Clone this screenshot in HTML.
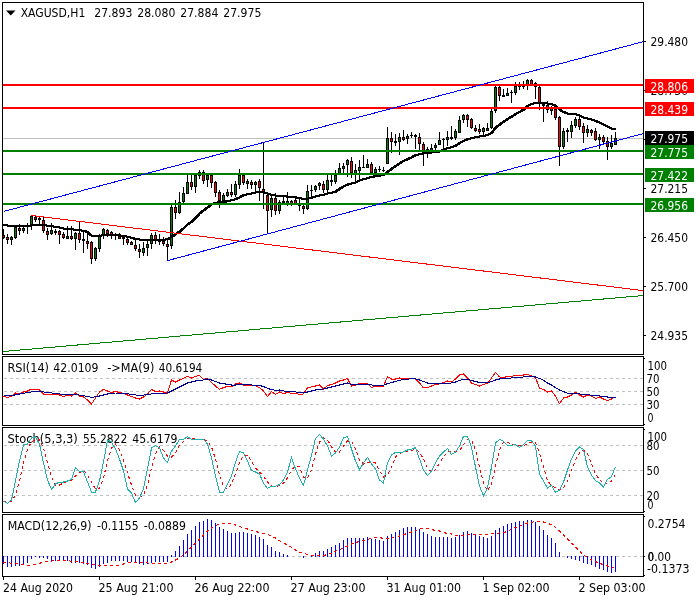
<!DOCTYPE html>
<html lang="en"><head><meta charset="utf-8"><title>XAGUSD,H1</title>
<style>html,body{margin:0;padding:0;background:#fff}svg{display:block}text{font-family:"DejaVu Sans Condensed","DejaVu Sans","Liberation Sans",sans-serif;font-size:12px;fill:#000}.w{fill:#fff}</style></head><body>
<svg width="700" height="600" viewBox="0 0 700 600">
<rect width="700" height="600" fill="#fff"/>
<polygon points="6,10.5 15.5,10.5 10.75,15.5" fill="#000"/>
<text x="20.7" y="17" textLength="64.6" lengthAdjust="spacingAndGlyphs">XAGUSD,H1</text>
<text x="94.3" y="17" textLength="38" lengthAdjust="spacingAndGlyphs">27.893</text>
<text x="137.3" y="17" textLength="38" lengthAdjust="spacingAndGlyphs">28.080</text>
<text x="180.3" y="17" textLength="38" lengthAdjust="spacingAndGlyphs">27.884</text>
<text x="223.3" y="17" textLength="38" lengthAdjust="spacingAndGlyphs">27.975</text>
<g shape-rendering="crispEdges">
<rect x="3" y="138" width="640" height="1" fill="#c0c0c0"/>
<rect x="3" y="229" width="1" height="10" fill="#000"/>
<rect x="2" y="235" width="3" height="3" fill="#000"/>
<rect x="3" y="236" width="1" height="1" fill="#ff0000"/>
<rect x="7" y="234" width="1" height="10" fill="#000"/>
<rect x="6" y="237" width="3" height="3" fill="#000"/>
<rect x="7" y="238" width="1" height="1" fill="#ff0000"/>
<rect x="11" y="236" width="1" height="9" fill="#000"/>
<rect x="10" y="237" width="3" height="3" fill="#000"/>
<rect x="11" y="238" width="1" height="1" fill="#008000"/>
<rect x="15" y="226" width="1" height="13" fill="#000"/>
<rect x="14" y="227" width="3" height="11" fill="#000"/>
<rect x="15" y="228" width="1" height="9" fill="#008000"/>
<rect x="19" y="224" width="1" height="11" fill="#000"/>
<rect x="18" y="228" width="3" height="3" fill="#000"/>
<rect x="19" y="229" width="1" height="1" fill="#ff0000"/>
<rect x="23" y="225" width="1" height="8" fill="#000"/>
<rect x="22" y="228" width="3" height="3" fill="#000"/>
<rect x="23" y="229" width="1" height="1" fill="#008000"/>
<rect x="27" y="223" width="1" height="11" fill="#000"/>
<rect x="26" y="226" width="3" height="1" fill="#000"/>
<rect x="31" y="216" width="1" height="14" fill="#000"/>
<rect x="30" y="216" width="3" height="10" fill="#000"/>
<rect x="31" y="217" width="1" height="8" fill="#008000"/>
<rect x="35" y="216" width="1" height="6" fill="#000"/>
<rect x="34" y="217" width="3" height="3" fill="#000"/>
<rect x="35" y="218" width="1" height="1" fill="#ff0000"/>
<rect x="39" y="217" width="1" height="8" fill="#000"/>
<rect x="38" y="218" width="3" height="2" fill="#000"/>
<rect x="43" y="217" width="1" height="16" fill="#000"/>
<rect x="42" y="220" width="3" height="11" fill="#000"/>
<rect x="43" y="221" width="1" height="9" fill="#ff0000"/>
<rect x="47" y="228" width="1" height="12" fill="#000"/>
<rect x="46" y="231" width="3" height="4" fill="#000"/>
<rect x="47" y="232" width="1" height="2" fill="#ff0000"/>
<rect x="51" y="223" width="1" height="12" fill="#000"/>
<rect x="50" y="230" width="3" height="4" fill="#000"/>
<rect x="51" y="231" width="1" height="2" fill="#008000"/>
<rect x="55" y="229" width="1" height="6" fill="#000"/>
<rect x="54" y="231" width="3" height="2" fill="#000"/>
<rect x="59" y="230" width="1" height="14" fill="#000"/>
<rect x="58" y="231" width="3" height="4" fill="#000"/>
<rect x="59" y="232" width="1" height="2" fill="#ff0000"/>
<rect x="63" y="232" width="1" height="7" fill="#000"/>
<rect x="62" y="234" width="3" height="4" fill="#000"/>
<rect x="63" y="235" width="1" height="2" fill="#ff0000"/>
<rect x="67" y="226" width="1" height="13" fill="#000"/>
<rect x="66" y="236" width="3" height="3" fill="#000"/>
<rect x="67" y="237" width="1" height="1" fill="#008000"/>
<rect x="71" y="226" width="1" height="14" fill="#000"/>
<rect x="70" y="236" width="3" height="3" fill="#000"/>
<rect x="71" y="237" width="1" height="1" fill="#ff0000"/>
<rect x="75" y="232" width="1" height="18" fill="#000"/>
<rect x="74" y="233" width="3" height="6" fill="#000"/>
<rect x="75" y="234" width="1" height="4" fill="#008000"/>
<rect x="79" y="222" width="1" height="21" fill="#000"/>
<rect x="78" y="233" width="3" height="7" fill="#000"/>
<rect x="79" y="234" width="1" height="5" fill="#ff0000"/>
<rect x="83" y="231" width="1" height="22" fill="#000"/>
<rect x="82" y="239" width="3" height="2" fill="#000"/>
<rect x="87" y="234" width="1" height="15" fill="#000"/>
<rect x="86" y="241" width="3" height="3" fill="#000"/>
<rect x="87" y="242" width="1" height="1" fill="#ff0000"/>
<rect x="91" y="241" width="1" height="23" fill="#000"/>
<rect x="90" y="242" width="3" height="17" fill="#000"/>
<rect x="91" y="243" width="1" height="15" fill="#ff0000"/>
<rect x="95" y="247" width="1" height="14" fill="#000"/>
<rect x="94" y="248" width="3" height="11" fill="#000"/>
<rect x="95" y="249" width="1" height="9" fill="#008000"/>
<rect x="99" y="234" width="1" height="18" fill="#000"/>
<rect x="98" y="235" width="3" height="14" fill="#000"/>
<rect x="99" y="236" width="1" height="12" fill="#008000"/>
<rect x="103" y="228" width="1" height="11" fill="#000"/>
<rect x="102" y="229" width="3" height="6" fill="#000"/>
<rect x="103" y="230" width="1" height="4" fill="#008000"/>
<rect x="107" y="229" width="1" height="8" fill="#000"/>
<rect x="106" y="230" width="3" height="4" fill="#000"/>
<rect x="107" y="231" width="1" height="2" fill="#ff0000"/>
<rect x="111" y="231" width="1" height="8" fill="#000"/>
<rect x="110" y="232" width="3" height="3" fill="#000"/>
<rect x="111" y="233" width="1" height="1" fill="#ff0000"/>
<rect x="115" y="233" width="1" height="7" fill="#000"/>
<rect x="114" y="235" width="3" height="1" fill="#000"/>
<rect x="119" y="233" width="1" height="6" fill="#000"/>
<rect x="118" y="236" width="3" height="3" fill="#000"/>
<rect x="119" y="237" width="1" height="1" fill="#ff0000"/>
<rect x="123" y="237" width="1" height="8" fill="#000"/>
<rect x="122" y="237" width="3" height="2" fill="#000"/>
<rect x="127" y="238" width="1" height="7" fill="#000"/>
<rect x="126" y="239" width="3" height="4" fill="#000"/>
<rect x="127" y="240" width="1" height="2" fill="#ff0000"/>
<rect x="131" y="241" width="1" height="4" fill="#000"/>
<rect x="130" y="242" width="3" height="3" fill="#000"/>
<rect x="131" y="243" width="1" height="1" fill="#ff0000"/>
<rect x="135" y="239" width="1" height="12" fill="#000"/>
<rect x="134" y="245" width="3" height="4" fill="#000"/>
<rect x="135" y="246" width="1" height="2" fill="#ff0000"/>
<rect x="139" y="244" width="1" height="14" fill="#000"/>
<rect x="138" y="249" width="3" height="3" fill="#000"/>
<rect x="139" y="250" width="1" height="1" fill="#ff0000"/>
<rect x="143" y="242" width="1" height="14" fill="#000"/>
<rect x="142" y="248" width="3" height="5" fill="#000"/>
<rect x="143" y="249" width="1" height="3" fill="#008000"/>
<rect x="147" y="241" width="1" height="15" fill="#000"/>
<rect x="146" y="244" width="3" height="4" fill="#000"/>
<rect x="147" y="245" width="1" height="2" fill="#008000"/>
<rect x="151" y="233" width="1" height="16" fill="#000"/>
<rect x="150" y="235" width="3" height="9" fill="#000"/>
<rect x="151" y="236" width="1" height="7" fill="#008000"/>
<rect x="155" y="232" width="1" height="12" fill="#000"/>
<rect x="154" y="235" width="3" height="5" fill="#000"/>
<rect x="155" y="236" width="1" height="3" fill="#ff0000"/>
<rect x="159" y="234" width="1" height="11" fill="#000"/>
<rect x="158" y="239" width="3" height="3" fill="#000"/>
<rect x="163" y="237" width="1" height="9" fill="#000"/>
<rect x="162" y="241" width="3" height="3" fill="#000"/>
<rect x="163" y="242" width="1" height="1" fill="#ff0000"/>
<rect x="167" y="240" width="1" height="21" fill="#000"/>
<rect x="166" y="244" width="3" height="3" fill="#000"/>
<rect x="167" y="245" width="1" height="1" fill="#ff0000"/>
<rect x="171" y="205" width="1" height="44" fill="#000"/>
<rect x="170" y="207" width="3" height="39" fill="#000"/>
<rect x="171" y="208" width="1" height="37" fill="#008000"/>
<rect x="175" y="200" width="1" height="19" fill="#000"/>
<rect x="174" y="207" width="3" height="6" fill="#000"/>
<rect x="175" y="208" width="1" height="4" fill="#ff0000"/>
<rect x="179" y="192" width="1" height="22" fill="#000"/>
<rect x="178" y="202" width="3" height="11" fill="#000"/>
<rect x="179" y="203" width="1" height="9" fill="#008000"/>
<rect x="183" y="187" width="1" height="16" fill="#000"/>
<rect x="182" y="193" width="3" height="9" fill="#000"/>
<rect x="183" y="194" width="1" height="7" fill="#008000"/>
<rect x="187" y="175" width="1" height="19" fill="#000"/>
<rect x="186" y="182" width="3" height="12" fill="#000"/>
<rect x="187" y="183" width="1" height="10" fill="#008000"/>
<rect x="191" y="173" width="1" height="17" fill="#000"/>
<rect x="190" y="182" width="3" height="5" fill="#000"/>
<rect x="191" y="183" width="1" height="3" fill="#ff0000"/>
<rect x="195" y="175" width="1" height="18" fill="#000"/>
<rect x="194" y="175" width="3" height="12" fill="#000"/>
<rect x="195" y="176" width="1" height="10" fill="#008000"/>
<rect x="199" y="170" width="1" height="9" fill="#000"/>
<rect x="198" y="172" width="3" height="4" fill="#000"/>
<rect x="199" y="173" width="1" height="2" fill="#008000"/>
<rect x="203" y="170" width="1" height="14" fill="#000"/>
<rect x="202" y="172" width="3" height="9" fill="#000"/>
<rect x="203" y="173" width="1" height="7" fill="#ff0000"/>
<rect x="207" y="173" width="1" height="14" fill="#000"/>
<rect x="206" y="175" width="3" height="5" fill="#000"/>
<rect x="207" y="176" width="1" height="3" fill="#008000"/>
<rect x="211" y="175" width="1" height="13" fill="#000"/>
<rect x="210" y="175" width="3" height="8" fill="#000"/>
<rect x="211" y="176" width="1" height="6" fill="#ff0000"/>
<rect x="215" y="181" width="1" height="16" fill="#000"/>
<rect x="214" y="182" width="3" height="11" fill="#000"/>
<rect x="215" y="183" width="1" height="9" fill="#ff0000"/>
<rect x="219" y="190" width="1" height="18" fill="#000"/>
<rect x="218" y="192" width="3" height="9" fill="#000"/>
<rect x="219" y="193" width="1" height="7" fill="#ff0000"/>
<rect x="223" y="193" width="1" height="10" fill="#000"/>
<rect x="222" y="195" width="3" height="6" fill="#000"/>
<rect x="223" y="196" width="1" height="4" fill="#008000"/>
<rect x="227" y="189" width="1" height="8" fill="#000"/>
<rect x="226" y="192" width="3" height="4" fill="#000"/>
<rect x="227" y="193" width="1" height="2" fill="#008000"/>
<rect x="231" y="184" width="1" height="13" fill="#000"/>
<rect x="230" y="192" width="3" height="3" fill="#000"/>
<rect x="231" y="193" width="1" height="1" fill="#ff0000"/>
<rect x="235" y="181" width="1" height="16" fill="#000"/>
<rect x="234" y="184" width="3" height="11" fill="#000"/>
<rect x="235" y="185" width="1" height="9" fill="#008000"/>
<rect x="239" y="169" width="1" height="20" fill="#000"/>
<rect x="238" y="175" width="3" height="10" fill="#000"/>
<rect x="239" y="176" width="1" height="8" fill="#008000"/>
<rect x="243" y="175" width="1" height="10" fill="#000"/>
<rect x="242" y="175" width="3" height="8" fill="#000"/>
<rect x="243" y="176" width="1" height="6" fill="#ff0000"/>
<rect x="247" y="179" width="1" height="10" fill="#000"/>
<rect x="246" y="181" width="3" height="3" fill="#000"/>
<rect x="247" y="182" width="1" height="1" fill="#008000"/>
<rect x="251" y="180" width="1" height="9" fill="#000"/>
<rect x="250" y="182" width="3" height="3" fill="#000"/>
<rect x="251" y="183" width="1" height="1" fill="#ff0000"/>
<rect x="255" y="181" width="1" height="11" fill="#000"/>
<rect x="254" y="182" width="3" height="3" fill="#000"/>
<rect x="255" y="183" width="1" height="1" fill="#008000"/>
<rect x="259" y="179" width="1" height="22" fill="#000"/>
<rect x="258" y="181" width="3" height="7" fill="#000"/>
<rect x="259" y="182" width="1" height="5" fill="#ff0000"/>
<rect x="263" y="143" width="1" height="66" fill="#000"/>
<rect x="262" y="189" width="3" height="3" fill="#000"/>
<rect x="263" y="190" width="1" height="1" fill="#ff0000"/>
<rect x="267" y="194" width="1" height="40" fill="#000"/>
<rect x="266" y="195" width="3" height="16" fill="#000"/>
<rect x="267" y="196" width="1" height="14" fill="#ff0000"/>
<rect x="271" y="196" width="1" height="21" fill="#000"/>
<rect x="270" y="198" width="3" height="12" fill="#000"/>
<rect x="271" y="199" width="1" height="10" fill="#008000"/>
<rect x="275" y="193" width="1" height="22" fill="#000"/>
<rect x="274" y="198" width="3" height="13" fill="#000"/>
<rect x="275" y="199" width="1" height="11" fill="#ff0000"/>
<rect x="279" y="200" width="1" height="14" fill="#000"/>
<rect x="278" y="202" width="3" height="9" fill="#000"/>
<rect x="279" y="203" width="1" height="7" fill="#008000"/>
<rect x="283" y="195" width="1" height="8" fill="#000"/>
<rect x="282" y="201" width="3" height="2" fill="#000"/>
<rect x="287" y="192" width="1" height="14" fill="#000"/>
<rect x="286" y="201" width="3" height="3" fill="#000"/>
<rect x="287" y="202" width="1" height="1" fill="#008000"/>
<rect x="291" y="200" width="1" height="6" fill="#000"/>
<rect x="290" y="201" width="3" height="3" fill="#000"/>
<rect x="291" y="202" width="1" height="1" fill="#ff0000"/>
<rect x="295" y="197" width="1" height="7" fill="#000"/>
<rect x="294" y="200" width="3" height="4" fill="#000"/>
<rect x="295" y="201" width="1" height="2" fill="#ff0000"/>
<rect x="299" y="199" width="1" height="12" fill="#000"/>
<rect x="298" y="205" width="3" height="1" fill="#000"/>
<rect x="303" y="205" width="1" height="9" fill="#000"/>
<rect x="302" y="206" width="3" height="3" fill="#000"/>
<rect x="303" y="207" width="1" height="1" fill="#ff0000"/>
<rect x="307" y="185" width="1" height="25" fill="#000"/>
<rect x="306" y="191" width="3" height="18" fill="#000"/>
<rect x="307" y="192" width="1" height="16" fill="#008000"/>
<rect x="311" y="185" width="1" height="12" fill="#000"/>
<rect x="310" y="190" width="3" height="1" fill="#000"/>
<rect x="315" y="185" width="1" height="7" fill="#000"/>
<rect x="314" y="186" width="3" height="4" fill="#000"/>
<rect x="315" y="187" width="1" height="2" fill="#008000"/>
<rect x="319" y="182" width="1" height="8" fill="#000"/>
<rect x="318" y="183" width="3" height="3" fill="#000"/>
<rect x="319" y="184" width="1" height="1" fill="#008000"/>
<rect x="323" y="181" width="1" height="12" fill="#000"/>
<rect x="322" y="184" width="3" height="6" fill="#000"/>
<rect x="323" y="185" width="1" height="4" fill="#ff0000"/>
<rect x="327" y="175" width="1" height="18" fill="#000"/>
<rect x="326" y="180" width="3" height="10" fill="#000"/>
<rect x="327" y="181" width="1" height="8" fill="#008000"/>
<rect x="331" y="175" width="1" height="11" fill="#000"/>
<rect x="330" y="180" width="3" height="2" fill="#000"/>
<rect x="335" y="170" width="1" height="14" fill="#000"/>
<rect x="334" y="175" width="3" height="7" fill="#000"/>
<rect x="335" y="176" width="1" height="5" fill="#008000"/>
<rect x="339" y="163" width="1" height="11" fill="#000"/>
<rect x="338" y="168" width="3" height="6" fill="#000"/>
<rect x="339" y="169" width="1" height="4" fill="#008000"/>
<rect x="343" y="163" width="1" height="10" fill="#000"/>
<rect x="342" y="166" width="3" height="3" fill="#000"/>
<rect x="343" y="167" width="1" height="1" fill="#008000"/>
<rect x="347" y="159" width="1" height="18" fill="#000"/>
<rect x="346" y="160" width="3" height="5" fill="#000"/>
<rect x="347" y="161" width="1" height="3" fill="#008000"/>
<rect x="351" y="157" width="1" height="21" fill="#000"/>
<rect x="350" y="161" width="3" height="12" fill="#000"/>
<rect x="351" y="162" width="1" height="10" fill="#ff0000"/>
<rect x="355" y="164" width="1" height="18" fill="#000"/>
<rect x="354" y="170" width="3" height="4" fill="#000"/>
<rect x="355" y="171" width="1" height="2" fill="#008000"/>
<rect x="359" y="160" width="1" height="20" fill="#000"/>
<rect x="358" y="167" width="3" height="4" fill="#000"/>
<rect x="359" y="168" width="1" height="2" fill="#008000"/>
<rect x="363" y="155" width="1" height="13" fill="#000"/>
<rect x="362" y="167" width="3" height="1" fill="#000"/>
<rect x="367" y="159" width="1" height="9" fill="#000"/>
<rect x="366" y="164" width="3" height="4" fill="#000"/>
<rect x="367" y="165" width="1" height="2" fill="#008000"/>
<rect x="371" y="162" width="1" height="11" fill="#000"/>
<rect x="370" y="164" width="3" height="9" fill="#000"/>
<rect x="371" y="165" width="1" height="7" fill="#ff0000"/>
<rect x="375" y="167" width="1" height="6" fill="#000"/>
<rect x="374" y="169" width="3" height="4" fill="#000"/>
<rect x="375" y="170" width="1" height="2" fill="#008000"/>
<rect x="379" y="166" width="1" height="6" fill="#000"/>
<rect x="378" y="169" width="3" height="1" fill="#000"/>
<rect x="383" y="167" width="1" height="5" fill="#000"/>
<rect x="382" y="170" width="3" height="1" fill="#000"/>
<rect x="387" y="127" width="1" height="37" fill="#000"/>
<rect x="386" y="138" width="3" height="26" fill="#000"/>
<rect x="387" y="139" width="1" height="24" fill="#008000"/>
<rect x="391" y="132" width="1" height="21" fill="#000"/>
<rect x="390" y="138" width="3" height="4" fill="#000"/>
<rect x="391" y="139" width="1" height="2" fill="#ff0000"/>
<rect x="395" y="134" width="1" height="12" fill="#000"/>
<rect x="394" y="141" width="3" height="2" fill="#000"/>
<rect x="399" y="133" width="1" height="22" fill="#000"/>
<rect x="398" y="137" width="3" height="5" fill="#000"/>
<rect x="399" y="138" width="1" height="3" fill="#008000"/>
<rect x="403" y="130" width="1" height="11" fill="#000"/>
<rect x="402" y="137" width="3" height="3" fill="#000"/>
<rect x="403" y="138" width="1" height="1" fill="#ff0000"/>
<rect x="407" y="134" width="1" height="10" fill="#000"/>
<rect x="406" y="136" width="3" height="3" fill="#000"/>
<rect x="407" y="137" width="1" height="1" fill="#008000"/>
<rect x="411" y="132" width="1" height="6" fill="#000"/>
<rect x="410" y="135" width="3" height="1" fill="#000"/>
<rect x="415" y="134" width="1" height="15" fill="#000"/>
<rect x="414" y="135" width="3" height="2" fill="#000"/>
<rect x="419" y="133" width="1" height="17" fill="#000"/>
<rect x="418" y="137" width="3" height="7" fill="#000"/>
<rect x="419" y="138" width="1" height="5" fill="#ff0000"/>
<rect x="423" y="142" width="1" height="24" fill="#000"/>
<rect x="422" y="144" width="3" height="7" fill="#000"/>
<rect x="423" y="145" width="1" height="5" fill="#ff0000"/>
<rect x="427" y="147" width="1" height="11" fill="#000"/>
<rect x="426" y="149" width="3" height="3" fill="#000"/>
<rect x="427" y="150" width="1" height="1" fill="#008000"/>
<rect x="431" y="144" width="1" height="7" fill="#000"/>
<rect x="430" y="148" width="3" height="3" fill="#000"/>
<rect x="431" y="149" width="1" height="1" fill="#008000"/>
<rect x="435" y="143" width="1" height="7" fill="#000"/>
<rect x="434" y="145" width="3" height="3" fill="#000"/>
<rect x="435" y="146" width="1" height="1" fill="#008000"/>
<rect x="439" y="132" width="1" height="13" fill="#000"/>
<rect x="438" y="140" width="3" height="5" fill="#000"/>
<rect x="439" y="141" width="1" height="3" fill="#008000"/>
<rect x="443" y="138" width="1" height="12" fill="#000"/>
<rect x="442" y="139" width="3" height="1" fill="#000"/>
<rect x="447" y="131" width="1" height="15" fill="#000"/>
<rect x="446" y="137" width="3" height="3" fill="#000"/>
<rect x="447" y="138" width="1" height="1" fill="#008000"/>
<rect x="451" y="126" width="1" height="14" fill="#000"/>
<rect x="450" y="137" width="3" height="2" fill="#000"/>
<rect x="455" y="129" width="1" height="11" fill="#000"/>
<rect x="454" y="131" width="3" height="7" fill="#000"/>
<rect x="455" y="132" width="1" height="5" fill="#008000"/>
<rect x="459" y="116" width="1" height="17" fill="#000"/>
<rect x="458" y="120" width="3" height="13" fill="#000"/>
<rect x="459" y="121" width="1" height="11" fill="#008000"/>
<rect x="463" y="114" width="1" height="9" fill="#000"/>
<rect x="462" y="115" width="3" height="5" fill="#000"/>
<rect x="463" y="116" width="1" height="3" fill="#008000"/>
<rect x="467" y="114" width="1" height="13" fill="#000"/>
<rect x="466" y="115" width="3" height="5" fill="#000"/>
<rect x="467" y="116" width="1" height="3" fill="#ff0000"/>
<rect x="471" y="118" width="1" height="11" fill="#000"/>
<rect x="470" y="119" width="3" height="9" fill="#000"/>
<rect x="471" y="120" width="1" height="7" fill="#ff0000"/>
<rect x="475" y="125" width="1" height="7" fill="#000"/>
<rect x="474" y="128" width="3" height="3" fill="#000"/>
<rect x="475" y="129" width="1" height="1" fill="#ff0000"/>
<rect x="479" y="124" width="1" height="10" fill="#000"/>
<rect x="478" y="129" width="3" height="3" fill="#000"/>
<rect x="479" y="130" width="1" height="1" fill="#ff0000"/>
<rect x="483" y="127" width="1" height="9" fill="#000"/>
<rect x="482" y="128" width="3" height="4" fill="#000"/>
<rect x="483" y="129" width="1" height="2" fill="#008000"/>
<rect x="487" y="123" width="1" height="8" fill="#000"/>
<rect x="486" y="128" width="3" height="3" fill="#000"/>
<rect x="487" y="129" width="1" height="1" fill="#008000"/>
<rect x="491" y="109" width="1" height="20" fill="#000"/>
<rect x="490" y="111" width="3" height="17" fill="#000"/>
<rect x="491" y="112" width="1" height="15" fill="#008000"/>
<rect x="495" y="86" width="1" height="27" fill="#000"/>
<rect x="494" y="87" width="3" height="24" fill="#000"/>
<rect x="495" y="88" width="1" height="22" fill="#008000"/>
<rect x="499" y="86" width="1" height="15" fill="#000"/>
<rect x="498" y="87" width="3" height="9" fill="#000"/>
<rect x="499" y="88" width="1" height="7" fill="#ff0000"/>
<rect x="503" y="89" width="1" height="8" fill="#000"/>
<rect x="502" y="95" width="3" height="2" fill="#000"/>
<rect x="507" y="88" width="1" height="8" fill="#000"/>
<rect x="506" y="93" width="3" height="3" fill="#000"/>
<rect x="507" y="94" width="1" height="1" fill="#008000"/>
<rect x="511" y="90" width="1" height="13" fill="#000"/>
<rect x="510" y="92" width="3" height="1" fill="#000"/>
<rect x="515" y="82" width="1" height="13" fill="#000"/>
<rect x="514" y="86" width="3" height="7" fill="#000"/>
<rect x="515" y="87" width="1" height="5" fill="#008000"/>
<rect x="519" y="82" width="1" height="8" fill="#000"/>
<rect x="518" y="86" width="3" height="1" fill="#000"/>
<rect x="523" y="81" width="1" height="8" fill="#000"/>
<rect x="522" y="85" width="3" height="2" fill="#000"/>
<rect x="527" y="79" width="1" height="11" fill="#000"/>
<rect x="526" y="80" width="3" height="5" fill="#000"/>
<rect x="527" y="81" width="1" height="3" fill="#008000"/>
<rect x="531" y="79" width="1" height="7" fill="#000"/>
<rect x="530" y="80" width="3" height="5" fill="#000"/>
<rect x="531" y="81" width="1" height="3" fill="#ff0000"/>
<rect x="535" y="82" width="1" height="17" fill="#000"/>
<rect x="534" y="83" width="3" height="4" fill="#000"/>
<rect x="539" y="86" width="1" height="24" fill="#000"/>
<rect x="538" y="87" width="3" height="16" fill="#000"/>
<rect x="539" y="88" width="1" height="14" fill="#ff0000"/>
<rect x="543" y="102" width="1" height="20" fill="#000"/>
<rect x="542" y="104" width="3" height="2" fill="#000"/>
<rect x="547" y="101" width="1" height="12" fill="#000"/>
<rect x="546" y="105" width="3" height="5" fill="#000"/>
<rect x="547" y="106" width="1" height="3" fill="#ff0000"/>
<rect x="551" y="106" width="1" height="9" fill="#000"/>
<rect x="550" y="108" width="3" height="3" fill="#000"/>
<rect x="551" y="109" width="1" height="1" fill="#008000"/>
<rect x="555" y="109" width="1" height="11" fill="#000"/>
<rect x="554" y="109" width="3" height="9" fill="#000"/>
<rect x="555" y="110" width="1" height="7" fill="#ff0000"/>
<rect x="559" y="116" width="1" height="50" fill="#000"/>
<rect x="558" y="117" width="3" height="30" fill="#000"/>
<rect x="559" y="118" width="1" height="28" fill="#ff0000"/>
<rect x="563" y="128" width="1" height="21" fill="#000"/>
<rect x="562" y="131" width="3" height="16" fill="#000"/>
<rect x="563" y="132" width="1" height="14" fill="#008000"/>
<rect x="567" y="128" width="1" height="14" fill="#000"/>
<rect x="566" y="130" width="3" height="2" fill="#000"/>
<rect x="571" y="121" width="1" height="17" fill="#000"/>
<rect x="570" y="125" width="3" height="7" fill="#000"/>
<rect x="571" y="126" width="1" height="5" fill="#008000"/>
<rect x="575" y="117" width="1" height="11" fill="#000"/>
<rect x="574" y="119" width="3" height="7" fill="#000"/>
<rect x="575" y="120" width="1" height="5" fill="#008000"/>
<rect x="579" y="116" width="1" height="14" fill="#000"/>
<rect x="578" y="119" width="3" height="8" fill="#000"/>
<rect x="579" y="120" width="1" height="6" fill="#ff0000"/>
<rect x="583" y="123" width="1" height="20" fill="#000"/>
<rect x="582" y="126" width="3" height="7" fill="#000"/>
<rect x="583" y="127" width="1" height="5" fill="#ff0000"/>
<rect x="587" y="125" width="1" height="12" fill="#000"/>
<rect x="586" y="129" width="3" height="4" fill="#000"/>
<rect x="587" y="130" width="1" height="2" fill="#008000"/>
<rect x="591" y="129" width="1" height="7" fill="#000"/>
<rect x="590" y="130" width="3" height="3" fill="#000"/>
<rect x="591" y="131" width="1" height="1" fill="#ff0000"/>
<rect x="595" y="128" width="1" height="13" fill="#000"/>
<rect x="594" y="131" width="3" height="9" fill="#000"/>
<rect x="595" y="132" width="1" height="7" fill="#ff0000"/>
<rect x="599" y="134" width="1" height="15" fill="#000"/>
<rect x="598" y="137" width="3" height="3" fill="#000"/>
<rect x="599" y="138" width="1" height="1" fill="#008000"/>
<rect x="603" y="135" width="1" height="9" fill="#000"/>
<rect x="602" y="137" width="3" height="5" fill="#000"/>
<rect x="603" y="138" width="1" height="3" fill="#ff0000"/>
<rect x="607" y="137" width="1" height="23" fill="#000"/>
<rect x="606" y="141" width="3" height="6" fill="#000"/>
<rect x="607" y="142" width="1" height="4" fill="#ff0000"/>
<rect x="611" y="135" width="1" height="14" fill="#000"/>
<rect x="610" y="143" width="3" height="4" fill="#000"/>
<rect x="611" y="144" width="1" height="2" fill="#008000"/>
<rect x="615" y="132" width="1" height="13" fill="#000"/>
<rect x="614" y="138" width="3" height="7" fill="#000"/>
<rect x="615" y="139" width="1" height="5" fill="#008000"/>
<polyline points="3.5,225 7.5,225.5 11.5,225.7 15.5,226 19.5,226 23.5,226.2 27.5,226 31.5,225.5 35.5,224.5 39.5,224.5 43.5,225 47.5,225.7 51.5,226.2 55.5,226.7 59.5,227.5 63.5,228.5 67.5,228.7 71.5,229.2 75.5,229.7 79.5,230.2 83.5,230.7 87.5,232 91.5,235.5 95.5,236 99.5,235.7 103.5,235.3 107.5,235.1 111.5,235 115.5,235.2 119.5,235.4 123.5,236 127.5,236.7 131.5,237.7 135.5,239 139.5,239.5 143.5,239.8 147.5,239.8 151.5,239.8 155.5,239.8 159.5,239.8 163.5,239.8 167.5,239.3 171.5,237 175.5,234.3 179.5,231.7 183.5,228.5 187.5,224.5 191.5,222 195.5,218 199.5,213.5 203.5,210.5 207.5,207.5 211.5,204.5 215.5,202.7 219.5,202.2 223.5,202 227.5,201.2 231.5,200.2 235.5,199.2 239.5,197.5 243.5,195.2 247.5,194.2 251.5,193.5 255.5,192.5 259.5,192 263.5,192.5 267.5,193.5 271.5,195 275.5,195.5 279.5,195.8 283.5,196.2 287.5,196.6 291.5,197 295.5,197.3 299.5,198.2 303.5,198.7 307.5,198.6 311.5,198 315.5,196.5 319.5,195.6 323.5,194.7 327.5,193.6 331.5,192.7 335.5,191.7 339.5,189 343.5,186.5 347.5,184.7 351.5,183.5 355.5,182.5 359.5,180.6 363.5,179.2 367.5,178.2 371.5,177 375.5,176.2 379.5,175.6 383.5,175 387.5,172 391.5,169 395.5,166.2 399.5,163.5 403.5,161 407.5,159.2 411.5,157.5 415.5,155.2 419.5,154.2 423.5,153.2 427.5,152.7 431.5,152.5 435.5,152.2 439.5,151.5 443.5,149.7 447.5,148.2 451.5,147.2 455.5,146 459.5,143.2 463.5,141 467.5,139.2 471.5,138.2 475.5,137.2 479.5,136.6 483.5,135.7 487.5,135.2 491.5,133 495.5,128 499.5,124.7 503.5,121.7 507.5,119.2 511.5,116.7 515.5,114.2 519.5,112 523.5,109.7 527.5,106 531.5,104 535.5,103.1 539.5,102.6 543.5,103 547.5,103.5 551.5,104.2 555.5,105.6 559.5,109.5 563.5,112 567.5,113.5 571.5,113.9 575.5,114.1 579.5,115.5 583.5,117.5 587.5,118.5 591.5,119.5 595.5,121 599.5,122.5 603.5,124.5 607.5,126.5 611.5,128.5 615.5,129.2" fill="none" stroke="#000" stroke-width="2" stroke-linejoin="round" transform="translate(-0.5,0)"/>
<polyline points="3.5,225 7.5,225.5 11.5,225.7 15.5,226 19.5,226 23.5,226.2 27.5,226 31.5,225.5 35.5,224.5 39.5,224.5 43.5,225 47.5,225.7 51.5,226.2 55.5,226.7 59.5,227.5 63.5,228.5 67.5,228.7 71.5,229.2 75.5,229.7 79.5,230.2 83.5,230.7 87.5,232 91.5,235.5 95.5,236 99.5,235.7 103.5,235.3 107.5,235.1 111.5,235 115.5,235.2 119.5,235.4 123.5,236 127.5,236.7 131.5,237.7 135.5,239 139.5,239.5 143.5,239.8 147.5,239.8 151.5,239.8 155.5,239.8 159.5,239.8 163.5,239.8 167.5,239.3 171.5,237 175.5,234.3 179.5,231.7 183.5,228.5 187.5,224.5 191.5,222 195.5,218 199.5,213.5 203.5,210.5 207.5,207.5 211.5,204.5 215.5,202.7 219.5,202.2 223.5,202 227.5,201.2 231.5,200.2 235.5,199.2 239.5,197.5 243.5,195.2 247.5,194.2 251.5,193.5 255.5,192.5 259.5,192 263.5,192.5 267.5,193.5 271.5,195 275.5,195.5 279.5,195.8 283.5,196.2 287.5,196.6 291.5,197 295.5,197.3 299.5,198.2 303.5,198.7 307.5,198.6 311.5,198 315.5,196.5 319.5,195.6 323.5,194.7 327.5,193.6 331.5,192.7 335.5,191.7 339.5,189 343.5,186.5 347.5,184.7 351.5,183.5 355.5,182.5 359.5,180.6 363.5,179.2 367.5,178.2 371.5,177 375.5,176.2 379.5,175.6 383.5,175 387.5,172 391.5,169 395.5,166.2 399.5,163.5 403.5,161 407.5,159.2 411.5,157.5 415.5,155.2 419.5,154.2 423.5,153.2 427.5,152.7 431.5,152.5 435.5,152.2 439.5,151.5 443.5,149.7 447.5,148.2 451.5,147.2 455.5,146 459.5,143.2 463.5,141 467.5,139.2 471.5,138.2 475.5,137.2 479.5,136.6 483.5,135.7 487.5,135.2 491.5,133 495.5,128 499.5,124.7 503.5,121.7 507.5,119.2 511.5,116.7 515.5,114.2 519.5,112 523.5,109.7 527.5,106 531.5,104 535.5,103.1 539.5,102.6 543.5,103 547.5,103.5 551.5,104.2 555.5,105.6 559.5,109.5 563.5,112 567.5,113.5 571.5,113.9 575.5,114.1 579.5,115.5 583.5,117.5 587.5,118.5 591.5,119.5 595.5,121 599.5,122.5 603.5,124.5 607.5,126.5 611.5,128.5 615.5,129.2" fill="none" stroke="#000" stroke-width="2" stroke-linejoin="round" transform="translate(0.5,0)"/>
<rect x="3" y="84" width="640" height="2" fill="#ff0000"/>
<rect x="3" y="107" width="640" height="2" fill="#ff0000"/>
<rect x="3" y="150" width="640" height="2" fill="#008000"/>
<rect x="3" y="173" width="640" height="2" fill="#008000"/>
<rect x="3" y="203" width="640" height="2" fill="#008000"/>
<line x1="3" y1="351.52" x2="643" y2="295.56" stroke="#008000" stroke-width="1"/>
<line x1="31" y1="215.42" x2="643" y2="290.6" stroke="#ff0000" stroke-width="1"/>
<line x1="4" y1="211.35" x2="643" y2="41.73" stroke="#0000ff" stroke-width="1"/>
<line x1="167" y1="260.75" x2="643" y2="133.65" stroke="#0000ff" stroke-width="1"/>
</g>
<text x="7.5" y="372" textLength="41.5" lengthAdjust="spacingAndGlyphs">RSI(14)</text>
<text x="53.3" y="372" textLength="45.2" lengthAdjust="spacingAndGlyphs">42.0109</text>
<text x="107.3" y="372" textLength="47" lengthAdjust="spacingAndGlyphs">-&gt;MA(9)</text>
<text x="158.8" y="372" textLength="43.5" lengthAdjust="spacingAndGlyphs">40.6194</text>
<line x1="4" y1="378.5" x2="643" y2="378.5" stroke="#c0c0c0" stroke-width="1" stroke-dasharray="3 3" shape-rendering="crispEdges"/>
<line x1="4" y1="391.5" x2="643" y2="391.5" stroke="#c0c0c0" stroke-width="1" stroke-dasharray="3 3" shape-rendering="crispEdges"/>
<line x1="4" y1="404.5" x2="643" y2="404.5" stroke="#c0c0c0" stroke-width="1" stroke-dasharray="3 3" shape-rendering="crispEdges"/>
<polyline points="3.5,396 7.5,397.4 11.5,396 15.5,393 19.5,394 23.5,392 27.5,391 31.5,389 35.5,389 39.5,390 43.5,394 47.5,395 51.5,394 55.5,394 59.5,395 63.5,396.4 67.5,395 71.5,396 75.5,393 79.5,396 83.5,397 87.5,400 91.5,404 95.5,398 99.5,392 103.5,389.4 107.5,391 111.5,392.6 115.5,391.4 119.5,392.6 123.5,393.4 127.5,395 131.5,396.4 135.5,398 139.5,399 143.5,397 147.5,394 151.5,389.4 155.5,391.6 159.5,391 163.5,392 167.5,393 171.5,380 175.5,382 179.5,380 183.5,378.4 187.5,376.4 191.5,378 195.5,376.4 199.5,375.6 203.5,379.6 207.5,378.4 211.5,382.4 215.5,386 219.5,389.4 223.5,387.6 227.5,386.4 231.5,387 235.5,384 239.5,383 243.5,385 247.5,385 251.5,386 255.5,385.6 259.5,387.6 263.5,391 267.5,396.4 271.5,391.6 275.5,394.4 279.5,392 283.5,393.6 287.5,392.4 291.5,393.4 295.5,393.4 299.5,394.4 303.5,394 307.5,387.6 311.5,387 315.5,386 319.5,385 323.5,389 327.5,385.6 331.5,384.4 335.5,383 339.5,381 343.5,380 347.5,378.6 351.5,386 355.5,385 359.5,383.6 363.5,384 367.5,383.6 371.5,387.4 375.5,386 379.5,386 383.5,386 387.5,376.6 391.5,379 395.5,379 399.5,378 403.5,378.4 407.5,378.4 411.5,378.4 415.5,379 419.5,383 423.5,388 427.5,387.4 431.5,386 435.5,384.4 439.5,384 443.5,382.4 447.5,381 451.5,382 455.5,379 459.5,375 463.5,374 467.5,378 471.5,383 475.5,384.4 479.5,386 483.5,384.4 487.5,383.6 491.5,378 495.5,372.4 499.5,377 503.5,377.6 507.5,376.4 511.5,376.4 515.5,375.6 519.5,376 523.5,375 527.5,374.4 531.5,376 535.5,377.6 539.5,388 543.5,389.4 547.5,392 551.5,391 555.5,396 559.5,403.6 563.5,398 567.5,397 571.5,395 575.5,392.4 579.5,395 583.5,397 587.5,395 591.5,396 595.5,398.4 599.5,397 603.5,399 607.5,400.4 611.5,399 615.5,396.8" fill="none" stroke="#ff0000" stroke-width="1" shape-rendering="crispEdges"/>
<polyline points="3.5,395.6 7.5,395.6 11.5,395.6 15.5,394.8 19.5,394 23.5,393.3 27.5,392.6 31.5,392 35.5,391.4 39.5,391.7 43.5,392 47.5,392.5 51.5,393 55.5,393.5 59.5,394 63.5,394.2 67.5,394.4 71.5,394.5 75.5,394.6 79.5,395.1 83.5,395.6 87.5,396.5 91.5,397.4 95.5,396.7 99.5,396 103.5,395 107.5,394 111.5,393.5 115.5,393 119.5,393 123.5,393 127.5,393.7 131.5,394.4 135.5,395 139.5,395.6 143.5,395.2 147.5,394.4 151.5,394 155.5,393.6 159.5,393.5 163.5,393.4 167.5,393 171.5,391 175.5,389 179.5,387 183.5,385 187.5,383 191.5,382 195.5,381 199.5,380.4 203.5,380 207.5,379 211.5,380 215.5,381.6 219.5,383 223.5,383.6 227.5,384.4 231.5,385 235.5,385 239.5,384.4 243.5,384.4 247.5,384.6 251.5,385 255.5,385.2 259.5,385.4 263.5,386.6 267.5,388.4 271.5,389.6 275.5,390.4 279.5,390 283.5,391 287.5,391.4 291.5,391.7 295.5,392 299.5,392.5 303.5,393 307.5,392 311.5,391 315.5,390 319.5,389.4 323.5,389 327.5,388 331.5,387 335.5,386 339.5,385 343.5,384 347.5,383 351.5,384.4 355.5,384.6 359.5,384.4 363.5,384.4 367.5,384.4 371.5,385 375.5,385.4 379.5,385.4 383.5,385.4 387.5,383.6 391.5,382.6 395.5,381.4 399.5,380.4 403.5,379.6 407.5,379.2 411.5,378.8 415.5,378.8 419.5,380 423.5,381.6 427.5,383 431.5,383.6 435.5,383.6 439.5,383.6 443.5,383.4 447.5,383.4 451.5,383 455.5,382 459.5,380.4 463.5,379 467.5,379 471.5,380.4 475.5,381.6 479.5,382.4 483.5,382.6 487.5,383 491.5,381.6 495.5,380 499.5,379 503.5,378.6 507.5,378.4 511.5,378 515.5,377.6 519.5,377.4 523.5,377 527.5,376.4 531.5,376.4 535.5,377 539.5,378.4 543.5,380.4 547.5,383 551.5,385 555.5,387.6 559.5,390 563.5,391.6 567.5,393.4 571.5,393.6 575.5,393.6 579.5,394 583.5,394.4 587.5,394.6 591.5,395.2 595.5,395.6 599.5,396 603.5,396.4 607.5,397 611.5,398 615.5,397.2" fill="none" stroke="#00008b" stroke-width="1" shape-rendering="crispEdges"/>
<text x="7.5" y="443" textLength="70.3" lengthAdjust="spacingAndGlyphs">Stoch(5,3,3)</text>
<text x="83" y="443" textLength="44.2" lengthAdjust="spacingAndGlyphs">55.2822</text>
<text x="132.3" y="443" textLength="45.3" lengthAdjust="spacingAndGlyphs">45.6179</text>
<line x1="4" y1="445.5" x2="643" y2="445.5" stroke="#c0c0c0" stroke-width="1" stroke-dasharray="3 3" shape-rendering="crispEdges"/>
<line x1="4" y1="470.5" x2="643" y2="470.5" stroke="#c0c0c0" stroke-width="1" stroke-dasharray="3 3" shape-rendering="crispEdges"/>
<line x1="4" y1="495.5" x2="643" y2="495.5" stroke="#c0c0c0" stroke-width="1" stroke-dasharray="3 3" shape-rendering="crispEdges"/>
<polyline points="3.5,501.4 7.5,501.6 11.5,501.4 15.5,495 19.5,481 23.5,463 27.5,449 31.5,442 35.5,439.4 39.5,439.4 43.5,448 47.5,463 51.5,477 55.5,485 59.5,485 63.5,483 67.5,481.6 71.5,480.6 75.5,476 79.5,472.6 83.5,470.4 87.5,475 91.5,482 95.5,489 99.5,488 103.5,478 107.5,461 111.5,448 115.5,444 119.5,450 123.5,460 127.5,473 131.5,485 135.5,495 139.5,497.4 143.5,495 147.5,485 151.5,468 155.5,454 159.5,447 163.5,450.6 167.5,456 171.5,457 175.5,453 179.5,445.4 183.5,441.4 187.5,438.4 191.5,438.4 195.5,438.4 199.5,439.4 203.5,439.4 207.5,441 211.5,447 215.5,459 219.5,475 223.5,486.4 227.5,489.4 231.5,484 235.5,474 239.5,463 243.5,455.4 247.5,455 251.5,461.4 255.5,468 259.5,472 263.5,476.4 267.5,482 271.5,486 275.5,487 279.5,485.6 283.5,483 287.5,478 291.5,470 295.5,466 299.5,467 303.5,477 307.5,478 311.5,470 315.5,454 319.5,442 323.5,438 327.5,440 331.5,447 335.5,452 339.5,452 343.5,446 347.5,441 351.5,441.4 355.5,449 359.5,460 363.5,464 367.5,463 371.5,462 375.5,463 379.5,471 383.5,477 387.5,475 391.5,467 395.5,457 399.5,453.4 403.5,452.4 407.5,451.4 411.5,450.4 415.5,449 419.5,452 423.5,459 427.5,468 431.5,472 435.5,469.6 439.5,463 443.5,457 447.5,452 451.5,451.4 455.5,451.4 459.5,450.6 463.5,445 467.5,439.4 471.5,440 475.5,450 479.5,467 483.5,483 487.5,491 491.5,484 495.5,466 499.5,450 503.5,442 507.5,442.4 511.5,444.4 515.5,445 519.5,446 523.5,445.4 527.5,444 531.5,442 535.5,442.6 539.5,453 543.5,467 547.5,481 551.5,485.4 555.5,488 559.5,489.4 563.5,488 567.5,481 571.5,470 575.5,460 579.5,453 583.5,450 587.5,454 591.5,464 595.5,474 599.5,479.4 603.5,483.6 607.5,483 611.5,481 615.5,474.4" fill="none" stroke="#ff0000" stroke-width="1" stroke-dasharray="3 3" shape-rendering="crispEdges"/>
<polyline points="3.5,501 7.5,503.4 11.5,500 15.5,481 19.5,461 23.5,445 27.5,444 31.5,438 35.5,437 39.5,444 43.5,463 47.5,480 51.5,489.4 55.5,484 59.5,482 63.5,482 67.5,481 71.5,479.4 75.5,467.6 79.5,471.4 83.5,472 87.5,482 91.5,492 95.5,492 99.5,481 103.5,462 107.5,440 111.5,442 115.5,449 119.5,459 123.5,471 127.5,489 131.5,493 135.5,502.6 139.5,498 143.5,489 147.5,469 151.5,448 155.5,445.6 159.5,448 163.5,458 167.5,462.6 171.5,451 175.5,446 179.5,439.4 183.5,439.4 187.5,436.4 191.5,439.4 195.5,439.4 199.5,439.4 203.5,439.4 207.5,444 211.5,458 215.5,476 219.5,492 223.5,492 227.5,484 231.5,476 235.5,462 239.5,451.4 243.5,453 247.5,461 251.5,470.6 255.5,472 259.5,474 263.5,483 267.5,488.4 271.5,486.4 275.5,486.4 279.5,484.6 283.5,480 287.5,472 291.5,457.4 295.5,469 299.5,478 303.5,485.4 307.5,470 311.5,455 315.5,438.4 319.5,434.6 323.5,439 327.5,446 331.5,456 335.5,453 339.5,447 343.5,438 347.5,436.4 351.5,449 355.5,461 359.5,469.6 363.5,463 367.5,457.4 371.5,464 375.5,469 379.5,480 383.5,483 387.5,463 391.5,455 395.5,452.4 399.5,452.4 403.5,452 407.5,450 411.5,449.4 415.5,447.6 419.5,459 423.5,470 427.5,475.6 431.5,471 435.5,463 439.5,456 443.5,452 447.5,448.4 451.5,454.4 455.5,452 459.5,446 463.5,436.4 467.5,436.4 471.5,447 475.5,467 479.5,486 483.5,495.6 487.5,488 491.5,467 495.5,443 499.5,439.4 503.5,441.4 507.5,445.4 511.5,445.4 515.5,444.6 519.5,447.4 523.5,444.6 527.5,440.4 531.5,441 535.5,446 539.5,474 543.5,481 547.5,488 551.5,485.4 555.5,492.4 559.5,490 563.5,482 567.5,470 571.5,459 575.5,451 579.5,447 583.5,449.4 587.5,467 591.5,475 595.5,480.6 599.5,483 603.5,487 607.5,479.4 611.5,476.6 615.5,466.6" fill="none" stroke="#20b2aa" stroke-width="1" shape-rendering="crispEdges"/>
<text x="7.7" y="530" textLength="84" lengthAdjust="spacingAndGlyphs">MACD(12,26,9)</text>
<text x="97" y="530" textLength="41.5" lengthAdjust="spacingAndGlyphs">-0.1155</text>
<text x="143.7" y="530" textLength="42.3" lengthAdjust="spacingAndGlyphs">-0.0889</text>
<line x1="4" y1="556.5" x2="643" y2="556.5" stroke="#c0c0c0" stroke-width="1" stroke-dasharray="3 3" shape-rendering="crispEdges"/>
<g shape-rendering="crispEdges" fill="#0000ff">
<rect x="3" y="556" width="1" height="8"/>
<rect x="7" y="556" width="1" height="11"/>
<rect x="11" y="556" width="1" height="11"/>
<rect x="15" y="556" width="1" height="10"/>
<rect x="19" y="556" width="1" height="10"/>
<rect x="23" y="556" width="1" height="8"/>
<rect x="27" y="556" width="1" height="7"/>
<rect x="31" y="556" width="1" height="3"/>
<rect x="35" y="556" width="1" height="1"/>
<rect x="39" y="556" width="1" height="2"/>
<rect x="43" y="556" width="1" height="2"/>
<rect x="47" y="556" width="1" height="3"/>
<rect x="51" y="556" width="1" height="5"/>
<rect x="55" y="556" width="1" height="5"/>
<rect x="59" y="556" width="1" height="5"/>
<rect x="63" y="556" width="1" height="5"/>
<rect x="67" y="556" width="1" height="5"/>
<rect x="71" y="556" width="1" height="7"/>
<rect x="75" y="556" width="1" height="7"/>
<rect x="79" y="556" width="1" height="7"/>
<rect x="83" y="556" width="1" height="8"/>
<rect x="87" y="556" width="1" height="9"/>
<rect x="91" y="556" width="1" height="12"/>
<rect x="95" y="556" width="1" height="13"/>
<rect x="99" y="556" width="1" height="11"/>
<rect x="103" y="556" width="1" height="8"/>
<rect x="107" y="556" width="1" height="7"/>
<rect x="111" y="556" width="1" height="5"/>
<rect x="115" y="556" width="1" height="5"/>
<rect x="119" y="556" width="1" height="5"/>
<rect x="123" y="556" width="1" height="5"/>
<rect x="127" y="556" width="1" height="6"/>
<rect x="131" y="556" width="1" height="6"/>
<rect x="135" y="556" width="1" height="7"/>
<rect x="139" y="556" width="1" height="8"/>
<rect x="143" y="556" width="1" height="9"/>
<rect x="147" y="556" width="1" height="8"/>
<rect x="151" y="556" width="1" height="7"/>
<rect x="155" y="556" width="1" height="6"/>
<rect x="159" y="556" width="1" height="6"/>
<rect x="163" y="556" width="1" height="6"/>
<rect x="167" y="556" width="1" height="6"/>
<rect x="171" y="555" width="1" height="2"/>
<rect x="175" y="551" width="1" height="6"/>
<rect x="179" y="546" width="1" height="11"/>
<rect x="183" y="540" width="1" height="17"/>
<rect x="187" y="534" width="1" height="23"/>
<rect x="191" y="530" width="1" height="27"/>
<rect x="195" y="526" width="1" height="31"/>
<rect x="199" y="522" width="1" height="35"/>
<rect x="203" y="521" width="1" height="36"/>
<rect x="207" y="519" width="1" height="38"/>
<rect x="211" y="520" width="1" height="37"/>
<rect x="215" y="523" width="1" height="34"/>
<rect x="219" y="527" width="1" height="30"/>
<rect x="223" y="529" width="1" height="28"/>
<rect x="227" y="531" width="1" height="26"/>
<rect x="231" y="533" width="1" height="24"/>
<rect x="235" y="533" width="1" height="24"/>
<rect x="239" y="532" width="1" height="25"/>
<rect x="243" y="532" width="1" height="25"/>
<rect x="247" y="533" width="1" height="24"/>
<rect x="251" y="534" width="1" height="23"/>
<rect x="255" y="535" width="1" height="22"/>
<rect x="259" y="537" width="1" height="20"/>
<rect x="263" y="539" width="1" height="18"/>
<rect x="267" y="545" width="1" height="12"/>
<rect x="271" y="547" width="1" height="10"/>
<rect x="275" y="551" width="1" height="6"/>
<rect x="279" y="552" width="1" height="5"/>
<rect x="283" y="554" width="1" height="3"/>
<rect x="287" y="555" width="1" height="2"/>
<rect x="303" y="556" width="1" height="2"/>
<rect x="311" y="555" width="1" height="2"/>
<rect x="315" y="553" width="1" height="4"/>
<rect x="319" y="551" width="1" height="6"/>
<rect x="323" y="551" width="1" height="6"/>
<rect x="327" y="549" width="1" height="8"/>
<rect x="331" y="547" width="1" height="10"/>
<rect x="335" y="545" width="1" height="12"/>
<rect x="339" y="543" width="1" height="14"/>
<rect x="343" y="540" width="1" height="17"/>
<rect x="347" y="538" width="1" height="19"/>
<rect x="351" y="538" width="1" height="19"/>
<rect x="355" y="538" width="1" height="19"/>
<rect x="359" y="538" width="1" height="19"/>
<rect x="363" y="538" width="1" height="19"/>
<rect x="367" y="537" width="1" height="20"/>
<rect x="371" y="539" width="1" height="18"/>
<rect x="375" y="539" width="1" height="18"/>
<rect x="379" y="540" width="1" height="17"/>
<rect x="383" y="541" width="1" height="16"/>
<rect x="387" y="536" width="1" height="21"/>
<rect x="391" y="534" width="1" height="23"/>
<rect x="395" y="532" width="1" height="25"/>
<rect x="399" y="530" width="1" height="27"/>
<rect x="403" y="528" width="1" height="29"/>
<rect x="407" y="527" width="1" height="30"/>
<rect x="411" y="527" width="1" height="30"/>
<rect x="415" y="527" width="1" height="30"/>
<rect x="419" y="529" width="1" height="28"/>
<rect x="423" y="532" width="1" height="25"/>
<rect x="427" y="534" width="1" height="23"/>
<rect x="431" y="536" width="1" height="21"/>
<rect x="435" y="537" width="1" height="20"/>
<rect x="439" y="537" width="1" height="20"/>
<rect x="443" y="537" width="1" height="20"/>
<rect x="447" y="537" width="1" height="20"/>
<rect x="451" y="538" width="1" height="19"/>
<rect x="455" y="537" width="1" height="20"/>
<rect x="459" y="535" width="1" height="22"/>
<rect x="463" y="532" width="1" height="25"/>
<rect x="467" y="531" width="1" height="26"/>
<rect x="471" y="533" width="1" height="24"/>
<rect x="475" y="534" width="1" height="23"/>
<rect x="479" y="536" width="1" height="21"/>
<rect x="483" y="537" width="1" height="20"/>
<rect x="487" y="538" width="1" height="19"/>
<rect x="491" y="536" width="1" height="21"/>
<rect x="495" y="530" width="1" height="27"/>
<rect x="499" y="528" width="1" height="29"/>
<rect x="503" y="526" width="1" height="31"/>
<rect x="507" y="524" width="1" height="33"/>
<rect x="511" y="523" width="1" height="34"/>
<rect x="515" y="522" width="1" height="35"/>
<rect x="519" y="521" width="1" height="36"/>
<rect x="523" y="521" width="1" height="36"/>
<rect x="527" y="520" width="1" height="37"/>
<rect x="531" y="520" width="1" height="37"/>
<rect x="535" y="522" width="1" height="35"/>
<rect x="539" y="526" width="1" height="31"/>
<rect x="543" y="530" width="1" height="27"/>
<rect x="547" y="535" width="1" height="22"/>
<rect x="551" y="538" width="1" height="19"/>
<rect x="555" y="543" width="1" height="14"/>
<rect x="559" y="552" width="1" height="5"/>
<rect x="567" y="556" width="1" height="2"/>
<rect x="571" y="556" width="1" height="3"/>
<rect x="575" y="556" width="1" height="4"/>
<rect x="579" y="556" width="1" height="5"/>
<rect x="583" y="556" width="1" height="7"/>
<rect x="587" y="556" width="1" height="8"/>
<rect x="591" y="556" width="1" height="9"/>
<rect x="595" y="556" width="1" height="11"/>
<rect x="599" y="556" width="1" height="13"/>
<rect x="603" y="556" width="1" height="14"/>
<rect x="607" y="556" width="1" height="16"/>
<rect x="611" y="556" width="1" height="17"/>
<rect x="615" y="556" width="1" height="16"/>
</g>
<polyline points="3.5,563 7.5,562.29 11.5,563.57 15.5,563.57 19.5,564.29 23.5,564.86 27.5,565.21 31.5,564.93 35.5,564.29 39.5,563.29 43.5,562.23 47.5,561.36 51.5,561.1 55.5,560.71 59.5,560.47 63.5,560.67 67.5,560.86 71.5,561.1 75.5,561.36 79.5,561.96 83.5,562.66 87.5,563.37 91.5,564.14 95.5,564.86 99.5,565.43 103.5,565.4 107.5,565.6 111.5,565.6 115.5,565.4 119.5,565 123.5,564 127.5,562.6 131.5,562 135.5,562 139.5,562.4 143.5,562.6 147.5,563 151.5,563.4 155.5,563.4 159.5,563.4 163.5,563.4 167.5,563 171.5,562 175.5,560 179.5,558 183.5,555 187.5,551 191.5,547 195.5,543 199.5,539 203.5,535 207.5,531 211.5,528 215.5,525.4 219.5,524 223.5,523.4 227.5,523.4 231.5,524 235.5,525 239.5,526.6 243.5,528 247.5,529 251.5,530.6 255.5,531.6 259.5,532.4 263.5,533.4 267.5,534.4 271.5,536 275.5,538 279.5,540.6 283.5,543 287.5,545 291.5,547.4 295.5,550 299.5,552 303.5,553.4 307.5,554.4 311.5,555.4 315.5,555.6 319.5,555.6 323.5,555.4 327.5,554.6 331.5,553 335.5,551.4 339.5,549.6 343.5,548 347.5,546 351.5,544 355.5,542.6 359.5,541.4 363.5,540.4 367.5,539.4 371.5,538.4 375.5,537.6 379.5,537.6 383.5,538.4 387.5,538.4 391.5,537.6 395.5,536.6 399.5,536 403.5,534.6 407.5,533.4 411.5,532 415.5,530.6 419.5,529 423.5,528.4 427.5,528.4 431.5,529.4 435.5,530.6 439.5,531 443.5,532.6 447.5,533.4 451.5,534 455.5,535.4 459.5,535.6 463.5,535.4 467.5,535 471.5,534.4 475.5,534.4 479.5,534.4 483.5,534.4 487.5,534.4 491.5,534 495.5,533.6 499.5,533 503.5,532.6 507.5,531.4 511.5,529.4 515.5,527.4 519.5,526 523.5,524.6 527.5,523 531.5,522.4 535.5,521.6 539.5,521.6 543.5,522 547.5,523 551.5,525 555.5,527.4 559.5,531 563.5,535 567.5,539 571.5,543 575.5,547 579.5,551 583.5,555 587.5,557.4 591.5,560 595.5,561.6 599.5,563.4 603.5,564.6 607.5,566 611.5,567 615.5,568.4" fill="none" stroke="#ff0000" stroke-width="1" stroke-dasharray="3 3" shape-rendering="crispEdges"/>
<g shape-rendering="crispEdges" fill="none" stroke="#000" stroke-width="1">
<rect x="2.5" y="2.5" width="641" height="352"/>
<rect x="2.5" y="356.5" width="641" height="69"/>
<rect x="2.5" y="427.5" width="641" height="85"/>
<rect x="2.5" y="514.5" width="641" height="62"/>
</g>
<g shape-rendering="crispEdges" fill="#000">
<rect x="644" y="41" width="2" height="1"/>
<rect x="644" y="90" width="2" height="1"/>
<rect x="644" y="139" width="2" height="1"/>
<rect x="644" y="188" width="2" height="1"/>
<rect x="644" y="237" width="2" height="1"/>
<rect x="644" y="286" width="2" height="1"/>
<rect x="644" y="335" width="2" height="1"/>
<rect x="644" y="358" width="1" height="1"/>
<rect x="644" y="424" width="1" height="1"/>
<rect x="644" y="429" width="1" height="1"/>
<rect x="644" y="511" width="1" height="1"/>
<rect x="644" y="516" width="1" height="1"/>
<rect x="644" y="556" width="1" height="1"/>
<rect x="644" y="575" width="1" height="1"/>
<rect x="3" y="577" width="1" height="3"/>
<rect x="99" y="577" width="1" height="3"/>
<rect x="195" y="577" width="1" height="3"/>
<rect x="291" y="577" width="1" height="3"/>
<rect x="387" y="577" width="1" height="3"/>
<rect x="483" y="577" width="1" height="3"/>
<rect x="579" y="577" width="1" height="3"/>
</g>
<text x="650.5" y="45.7" textLength="37.5" lengthAdjust="spacingAndGlyphs">29.480</text>
<text x="650.5" y="94.7" textLength="37.5" lengthAdjust="spacingAndGlyphs">28.730</text>
<text x="650.5" y="143.7" textLength="37.5" lengthAdjust="spacingAndGlyphs">27.965</text>
<text x="650.5" y="192.7" textLength="37.5" lengthAdjust="spacingAndGlyphs">27.215</text>
<text x="650.5" y="241.7" textLength="37.5" lengthAdjust="spacingAndGlyphs">26.450</text>
<text x="650.5" y="290.7" textLength="37.5" lengthAdjust="spacingAndGlyphs">25.700</text>
<text x="650.5" y="339.7" textLength="37.5" lengthAdjust="spacingAndGlyphs">24.935</text>
<rect x="645" y="79" width="49" height="14" fill="#ff0000" shape-rendering="crispEdges"/>
<text x="650.5" y="90.7" textLength="37.5" lengthAdjust="spacingAndGlyphs" class="w">28.806</text>
<rect x="645" y="102" width="49" height="14" fill="#ff0000" shape-rendering="crispEdges"/>
<text x="650.5" y="113.7" textLength="37.5" lengthAdjust="spacingAndGlyphs" class="w">28.439</text>
<rect x="645" y="145" width="49" height="14" fill="#008000" shape-rendering="crispEdges"/>
<text x="650.5" y="156.7" textLength="37.5" lengthAdjust="spacingAndGlyphs" class="w">27.775</text>
<rect x="645" y="168" width="49" height="14" fill="#008000" shape-rendering="crispEdges"/>
<text x="650.5" y="179.7" textLength="37.5" lengthAdjust="spacingAndGlyphs" class="w">27.422</text>
<rect x="645" y="198" width="49" height="14" fill="#008000" shape-rendering="crispEdges"/>
<text x="650.5" y="209.7" textLength="37.5" lengthAdjust="spacingAndGlyphs" class="w">26.956</text>
<rect x="645" y="131" width="49" height="14" fill="#000" shape-rendering="crispEdges"/>
<text x="650.5" y="142.7" textLength="37.5" lengthAdjust="spacingAndGlyphs" class="w">27.975</text>
<text x="647.5" y="370.2" textLength="19.5" lengthAdjust="spacingAndGlyphs">100</text>
<text x="646.5" y="382.7" textLength="13" lengthAdjust="spacingAndGlyphs">70</text>
<text x="646.5" y="395.7" textLength="13" lengthAdjust="spacingAndGlyphs">50</text>
<text x="646.5" y="408.7" textLength="13" lengthAdjust="spacingAndGlyphs">30</text>
<text x="647.5" y="421.7" textLength="6" lengthAdjust="spacingAndGlyphs">0</text>
<text x="647.5" y="440.8" textLength="19.5" lengthAdjust="spacingAndGlyphs">100</text>
<text x="646.5" y="449.7" textLength="13" lengthAdjust="spacingAndGlyphs">80</text>
<text x="646.5" y="474.7" textLength="13" lengthAdjust="spacingAndGlyphs">50</text>
<text x="646.5" y="499.7" textLength="13" lengthAdjust="spacingAndGlyphs">20</text>
<text x="647.5" y="508.8" textLength="6" lengthAdjust="spacingAndGlyphs">0</text>
<text x="647.5" y="528" textLength="38" lengthAdjust="spacingAndGlyphs">0.2754</text>
<text x="647.5" y="560.8" textLength="23.5" lengthAdjust="spacingAndGlyphs">0.00</text>
<text x="648.1" y="560.8" textLength="6" lengthAdjust="spacingAndGlyphs">0</text>
<text x="647" y="573" textLength="42.5" lengthAdjust="spacingAndGlyphs">-0.1373</text>
<text x="3" y="592" textLength="70" lengthAdjust="spacingAndGlyphs">24 Aug 2020</text>
<text x="98.5" y="592" textLength="75" lengthAdjust="spacingAndGlyphs">25 Aug 21:00</text>
<text x="194.5" y="592" textLength="75" lengthAdjust="spacingAndGlyphs">26 Aug 22:00</text>
<text x="290.5" y="592" textLength="75" lengthAdjust="spacingAndGlyphs">27 Aug 23:00</text>
<text x="386.5" y="592" textLength="74.5" lengthAdjust="spacingAndGlyphs">31 Aug 01:00</text>
<text x="482.5" y="592" textLength="67" lengthAdjust="spacingAndGlyphs">1 Sep 02:00</text>
<text x="578.5" y="592" textLength="67" lengthAdjust="spacingAndGlyphs">2 Sep 03:00</text>
</svg></body></html>
